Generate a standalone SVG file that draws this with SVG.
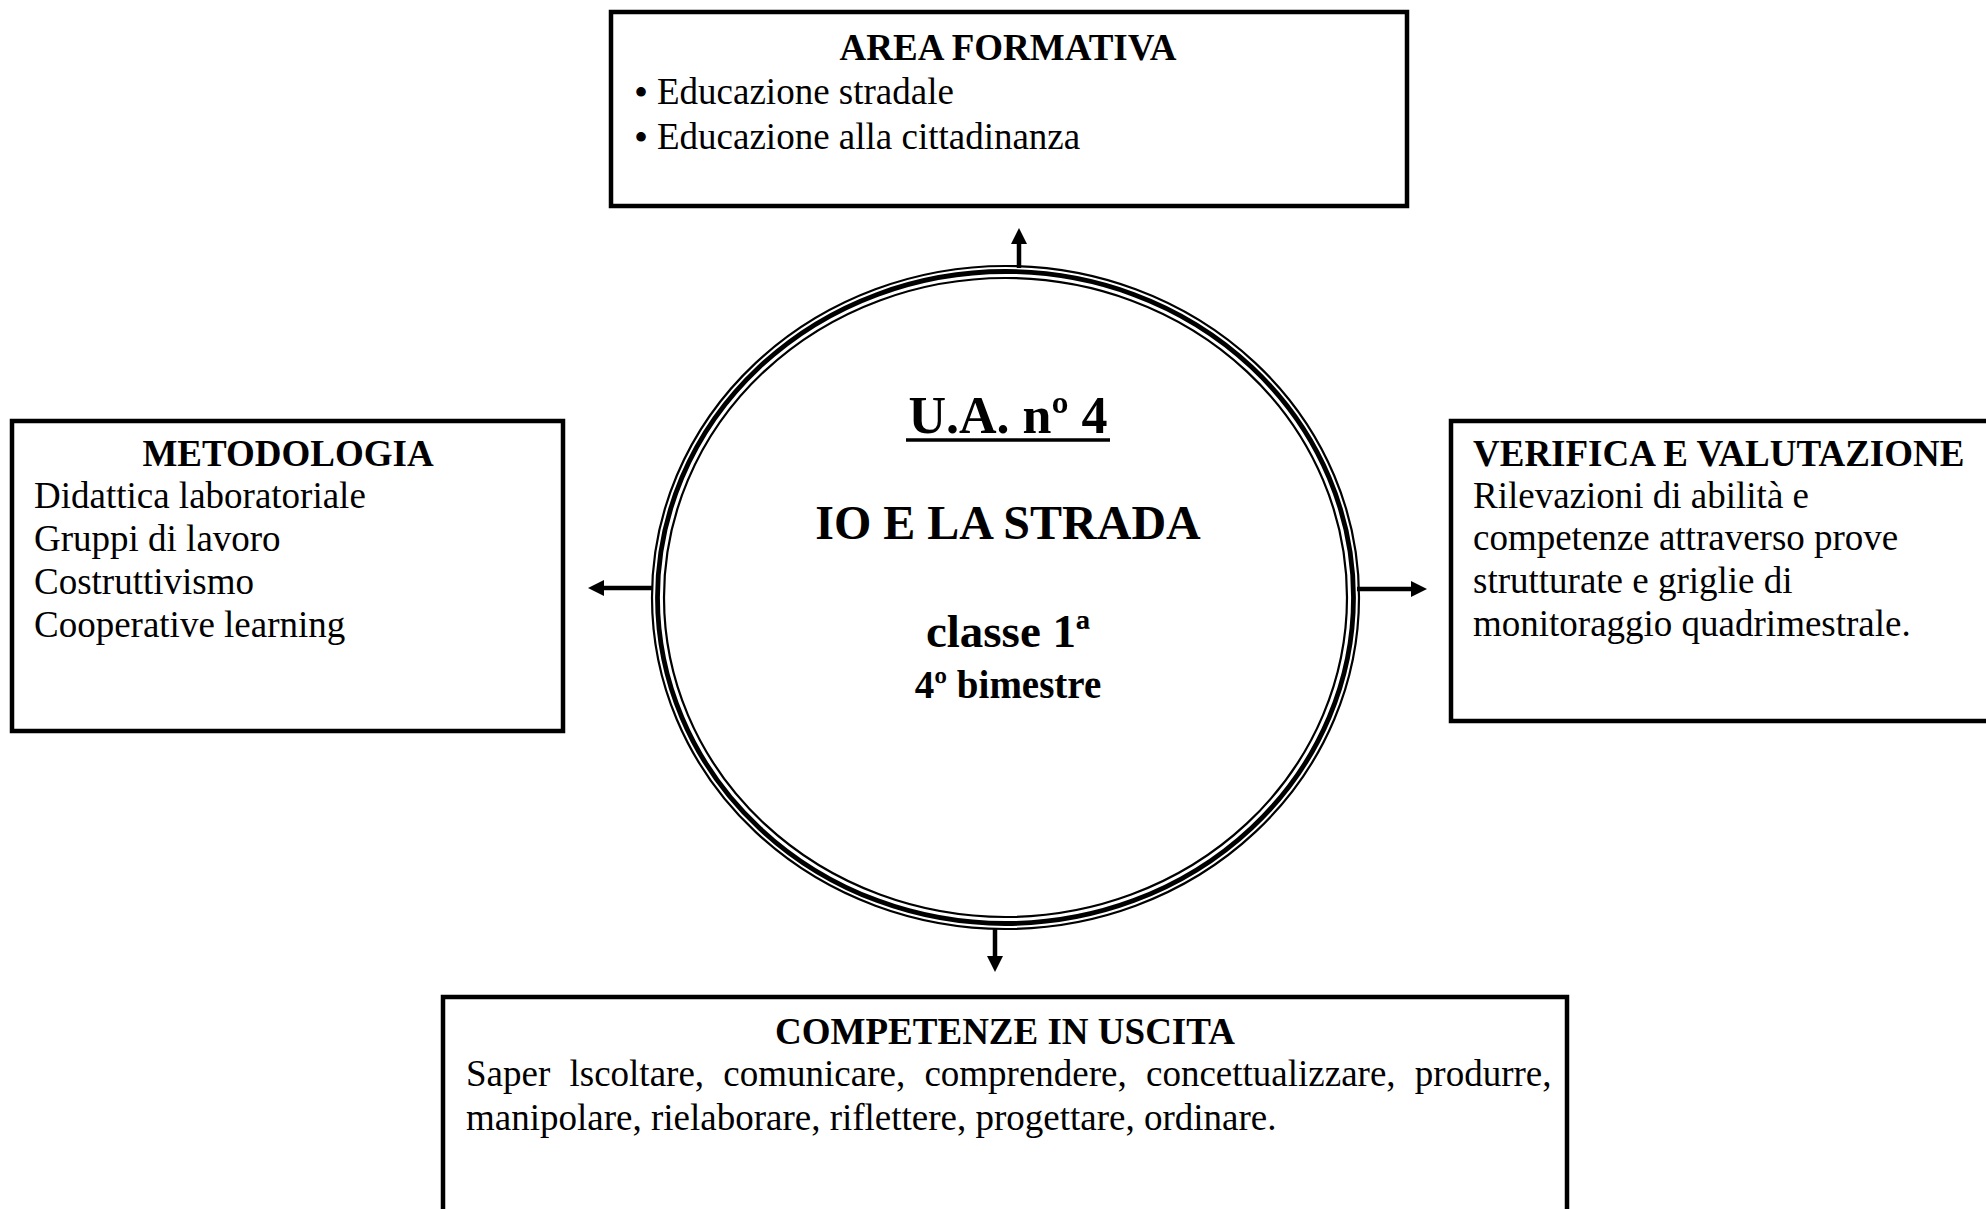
<svg xmlns="http://www.w3.org/2000/svg" width="1986" height="1209" viewBox="0 0 1986 1209">
<style>
  text { font-family: "Liberation Serif", "Times New Roman", serif; fill: #000; }
  .t { font-size: 37px; font-weight: bold; }
  .b { font-size: 37px; }
  .bul { font-size: 40px; }
  .box { fill: #fff; stroke: #000; stroke-width: 4.5; }
  .conn { stroke: #000; stroke-width: 4.5; fill: none; marker-end: url(#ah); }
  .ring { fill: none; stroke: #000; }
</style>
<defs>
  <marker id="ah" markerUnits="userSpaceOnUse" markerWidth="16" markerHeight="17" refX="0" refY="8" orient="auto" overflow="visible">
    <path d="M0,0 L16,8 L0,16 Z" fill="#000"/>
  </marker>
</defs>
<rect width="1986" height="1209" fill="#fff"/>

<g id="connectors">
  <line class="conn" x1="1019" y1="268" x2="1019" y2="244"/>
  <line class="conn" x1="653" y1="588" x2="604" y2="588"/>
  <line class="conn" x1="1357" y1="589" x2="1411" y2="589"/>
  <line class="conn" x1="995" y1="928" x2="995" y2="956"/>
</g>

<g id="center">
  <ellipse class="ring" cx="1005.5" cy="597.5" rx="353.5" ry="331.5" stroke-width="2.2"/>
  <ellipse class="ring" cx="1005.5" cy="597.5" rx="348" ry="326" stroke-width="4.8"/>
  <ellipse class="ring" cx="1005.5" cy="597.5" rx="341.5" ry="319.5" stroke-width="2.2"/>
  <text x="1008" y="433" text-anchor="middle" font-size="52" font-weight="bold">U.A. nº 4</text>
  <line x1="906" y1="440" x2="1110" y2="440" stroke="#000" stroke-width="3.5"/>
  <text x="1008" y="539" text-anchor="middle" font-size="48" font-weight="bold">IO E LA STRADA</text>
  <text x="1008" y="647" text-anchor="middle" font-size="47" font-weight="bold">classe 1ª</text>
  <text x="1008" y="698" text-anchor="middle" font-size="39" font-weight="bold">4º bimestre</text>
</g>

<g id="area-formativa">
  <rect class="box" x="611" y="12" width="796" height="194"/>
  <text class="t" x="1008" y="60" text-anchor="middle">AREA FORMATIVA</text>
  <text class="bul" x="634" y="106">•</text>
  <text class="b" x="657" y="104">Educazione stradale</text>
  <text class="bul" x="634" y="151">•</text>
  <text class="b" x="657" y="149">Educazione alla cittadinanza</text>
</g>

<g id="metodologia">
  <rect class="box" x="12" y="421" width="551" height="310"/>
  <text class="t" x="288" y="466" text-anchor="middle">METODOLOGIA</text>
  <text class="b" x="34" y="508">Didattica laboratoriale</text>
  <text class="b" x="34" y="551">Gruppi di lavoro</text>
  <text class="b" x="34" y="594">Costruttivismo</text>
  <text class="b" x="34" y="637">Cooperative learning</text>
</g>

<g id="verifica">
  <rect class="box" x="1451" y="421" width="600" height="300"/>
  <text class="t" x="1473" y="466">VERIFICA E VALUTAZIONE</text>
  <text class="b" x="1473" y="508">Rilevazioni di abilità e</text>
  <text class="b" x="1473" y="550">competenze attraverso prove</text>
  <text class="b" x="1473" y="593">strutturate e griglie di</text>
  <text class="b" x="1473" y="636">monitoraggio quadrimestrale.</text>
</g>

<g id="competenze">
  <rect class="box" x="443" y="997" width="1124" height="300"/>
  <text class="t" x="1005" y="1044" text-anchor="middle">COMPETENZE IN USCITA</text>
  <text class="b" x="466" y="1086" word-spacing="10">Saper lscoltare, comunicare, comprendere, concettualizzare, produrre,</text>
  <text class="b" x="466" y="1130">manipolare, rielaborare, riflettere, progettare, ordinare.</text>
</g>
</svg>
